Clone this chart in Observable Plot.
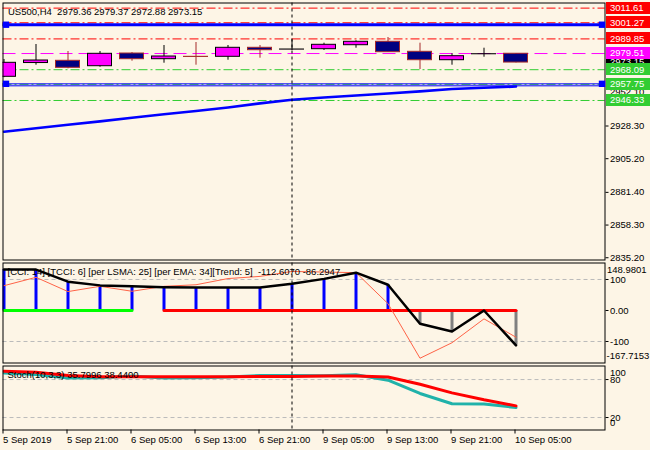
<!DOCTYPE html>
<html><head><meta charset="utf-8">
<script src="https://cdn.jsdelivr.net/npm/d3@7"></script>
<script src="https://cdn.jsdelivr.net/npm/@observablehq/plot@0.6"></script>
<style>
html,body{margin:0;padding:0;background:#FDF5E6;}
#chart{width:650px;height:450px;overflow:hidden;background:#FDF5E6;}
#chart svg{display:block;}
</style></head><body><div id="chart"></div>
<script>
// ---------- DATA ----------
const symbol = "US500,H4";
const barIndex = [0,1,2,3,4,5,6,7,8,9,10,11,12,13,14,15,16];
const opens  = [2963.07,2972.80,2974.38,2970.56,2979.54,2975.51,2977.20,2977.20,2983.57,2982.30,2982.58,2985.40,2987.81,2980.74,2974.80,2979.00,2979.36];
const highs  = [2975.30,2985.90,2980.95,2980.95,2980.24,2985.19,2987.31,2985.19,2985.19,2989.22,2986.82,2988.51,2990.84,2986.82,2979.32,2983.28,2979.37];
const lows   = [2962.50,2971.27,2968.72,2969.85,2974.10,2972.68,2971.27,2974.80,2976.22,2981.66,2981.66,2983.28,2980.46,2968.23,2971.27,2976.92,2972.88];
const closes = [2972.96,2974.59,2969.43,2979.32,2975.51,2977.42,2977.10,2983.57,2981.87,2982.36,2985.69,2987.81,2980.46,2974.80,2977.63,2979.04,2973.15];
const maValues = [2924.2,2926.7,2929.2,2931.6,2934.1,2936.6,2938.9,2941.4,2944.3,2946.8,2948.4,2949.9,2951.3,2952.8,2954.4,2955.3,2956.2];

const levelPrices = [3011.61,3001.27,2989.85,2979.51,2968.09,2957.75,2946.33];
const levelKinds  = ["resistance","resistance","resistance","pivot","support","support","support"];
const thickBluePrices = [2999.88];
const thinBluePrices  = [2958.10,2956.70];
const hiddenLabelPrices = [2999.88,2952.10];
const boxLabelPrices = [2973.15,3011.61,3001.27,2989.85,2979.51,2968.09,2957.75,2946.33];
const boxLabelKinds  = ["bid","resistance","resistance","resistance","pivot","support","support","support"];
const mainTicks = [2928.30,2905.20,2881.40,2858.30,2835.20];
const separatorBars = [9];

const cciValues  = [132,132,93,81,78,75,74,74,74,86,102,122,83,-43,-68,0,-112.6070];
const tcciValues = [80,107,61,78,62,78,83,103,110,126,124,122,22,-154,-104,-27,-86.2947];
const trendState = ["up","up","up","up","up","down","down","down","down","down","down","down","down","down","down","down","down"];
const cciMax = 148.9801, cciMin = -167.7153;
const cciTicks = [100,0,-100];
const cciParams = {CCI:14, TCCI:6, LSMA:25, EMA:34, Trend:5};

const stochK = [90.5,88,82.5,83,85.5,82.5,83,84,86.5,86.5,86,87.5,79,58,41.7,41.5,35.7996];
const stochD = [93,91.5,86.5,84.5,84.5,84.5,84.5,84.5,85,85,85.5,85.5,84,72.5,59,48,38.44];
const stochTicks = [80,20];
const stochBounds = [100,0];

const xTickBars   = [0,2,4,6,8,10,12,14,16];
const xTickLabels = ["5 Sep 2019","5 Sep 21:00","6 Sep 05:00","6 Sep 13:00","6 Sep 21:00","9 Sep 05:00","9 Sep 13:00","9 Sep 21:00","10 Sep 05:00"];

// ---------- STYLE ----------
const FONT = '"Liberation Sans", Arial, sans-serif';
const BG = "#FDF5E6";
const kindColor = {resistance:"#FF0000", pivot:"#FF00FF", support:"#32CD32", bid:"#000000"};
const levelDash = {resistance:"9,3,2,3", pivot:"13,6", support:"9,3,2,3"};
const W = 650;
const xOpt = {domain:[-0.03125, 18.78125], axis:null};
const common = {width:W, marginLeft:2.5, marginRight:45.5,
  style:{background:BG, fontFamily:FONT, fontSize:"9.5px", color:"black", overflow:"visible"}};

const candles = barIndex.map((i,k)=>({i, open:opens[k], high:highs[k], low:lows[k], close:closes[k], up: closes[k] >= opens[k]}));
const upC = candles.filter(d=>d.up), dnC = candles.filter(d=>!d.up);
const bodyHalf = 0.375;

function priceLabels(hidden, values, kinds) {
  return (index, scales, vals, dims) => {
    const g = d3.create("svg:g").attr("font-family", FONT).attr("font-size", 9.5).attr("text-anchor","start");
    const x0 = dims.width - dims.marginRight + 1.5;
    hidden.forEach(v => {
      g.append("text").attr("x", x0+4).attr("y", scales.y(v)).attr("dy","0.35em").attr("fill","black").text(v.toFixed(2));
    });
    values.forEach((v,k) => {
      const y = scales.y(v);
      g.append("rect").attr("x", x0).attr("y", Math.round(y)-6).attr("width", 46).attr("height", 12).attr("fill", kindColor[kinds[k]]);
      g.append("text").attr("x", x0+4).attr("y", y).attr("dy","0.35em").attr("fill","white").text(v.toFixed(2));
    });
    return g.node();
  };
}

// ---------- MAIN PANE ----------
const levels = levelPrices.map((p,k)=>({p, kind:levelKinds[k]}));
const mainPlot = Plot.plot({
  ...common, height:261, marginTop:2.5, marginBottom:1.5,
  x:xOpt, y:{domain:[2833.6, 3015.23], axis:null},
  marks:[
    ...["resistance","pivot","support"].map(kd => Plot.ruleY(levels.filter(d=>d.kind===kd), {y:"p", stroke:kindColor[kd], strokeDasharray:levelDash[kd], strokeWidth:1})),
    Plot.ruleY(thickBluePrices, {stroke:"#0000FF", strokeWidth:3}),
    Plot.ruleY(thinBluePrices, {stroke:"#0000FF", strokeWidth:1}),
    Plot.line(barIndex.map((i,k)=>({i, v:maValues[k]})), {x:"i", y:"v", stroke:"#0000FF", strokeWidth:2.6, clip:true}),
    Plot.ruleX(upC, {x:"i", y1:"low", y2:"high", stroke:"black", clip:true}),
    Plot.ruleX(dnC, {x:"i", y1:"low", y2:"high", stroke:"#A52A2A", clip:true}),
    Plot.rect(upC, {x1:d=>d.i-bodyHalf, x2:d=>d.i+bodyHalf, y1:"open", y2:"close", fill:"#FF00FF", stroke:"black", clip:true}),
    Plot.rect(dnC, {x1:d=>d.i-bodyHalf, x2:d=>d.i+bodyHalf, y1:"open", y2:"close", fill:"#000080", stroke:"#A52A2A", clip:true}),
    Plot.ruleX(separatorBars, {stroke:"black", strokeDasharray:"3,3"}),
    Plot.frame({stroke:"black"}),
    Plot.dot(thickBluePrices.concat([thinBluePrices[0]]), {y:d=>d, frameAnchor:"left", dx:3, symbol:"square", r:3.6, fill:"#0000FF"}),
    Plot.dot(thickBluePrices.concat([thinBluePrices[0]]), {y:d=>d, frameAnchor:"right", dx:-3, symbol:"square", r:3.6, fill:"#0000FF"}),
    Plot.axisY({anchor:"right", ticks:mainTicks, tickFormat:d=>d.toFixed(2), tickSize:3, tickPadding:2, fontSize:9.5}),
    priceLabels(hiddenLabelPrices, boxLabelPrices, boxLabelKinds),
    Plot.text([`${symbol}  ${opens[16].toFixed(2)} ${highs[16].toFixed(2)} ${lows[16].toFixed(2)} ${closes[16].toFixed(2)}`],
      {frameAnchor:"top-left", lineAnchor:"middle", dx:5, dy:8.5, fill:"black", fontSize:9.5})
  ]
});

// ---------- CCI PANE ----------
const cciData = barIndex.map((i,k)=>({i, cci:cciValues[k], tcci:tcciValues[k], trend:trendState[k]}));
const cciText = `[CCI: ${cciParams.CCI}] [TCCI: ${cciParams.TCCI}] [per LSMA: ${cciParams.LSMA}] [per EMA: ${cciParams.EMA}][Trend: ${cciParams.Trend}]  ${cciValues[16].toFixed(4)} ${tcciValues[16].toFixed(4)}`;
const cciPlot = Plot.plot({
  ...common, height:103, marginTop:1.5, marginBottom:1.5,
  x:xOpt, y:{domain:[-169.4, 153.2], axis:null},
  marks:[
    Plot.ruleY([100,-100], {stroke:"#BBBBBB", strokeDasharray:"4,3"}),
    Plot.ruleX(cciData.filter(d=>d.cci>=0), {x:"i", y1:0, y2:"cci", stroke:"#0000FF", strokeWidth:3}),
    Plot.ruleX(cciData.filter(d=>d.cci<0), {x:"i", y1:0, y2:"cci", stroke:"#808080", strokeWidth:3}),
    Plot.line(cciData.filter(d=>d.trend==="up"), {x:"i", y:()=>0, stroke:"#00FF00", strokeWidth:3}),
    Plot.line(cciData.filter(d=>d.trend==="down"), {x:"i", y:()=>0, stroke:"#FF0000", strokeWidth:3}),
    Plot.line(cciData, {x:"i", y:"tcci", stroke:"#FF6347", strokeWidth:1}),
    Plot.line(cciData, {x:"i", y:"cci", stroke:"black", strokeWidth:2.5}),
    Plot.ruleX(separatorBars, {stroke:"black", strokeDasharray:"3,3"}),
    Plot.frame({stroke:"black"}),
    Plot.axisY({anchor:"right", ticks:cciTicks, tickFormat:d=>d===0?"0.00":String(d), tickSize:3, tickPadding:2, fontSize:9.5}),
    Plot.text([cciMax], {y:d=>d, text:d=>d.toFixed(4), frameAnchor:"right", textAnchor:"start", dx:2, dy:6, fill:"black", fontSize:9.5}),
    Plot.text([cciMin], {y:d=>d, text:d=>d.toFixed(4), frameAnchor:"right", textAnchor:"start", dx:1.5, dy:-7, fill:"black", fontSize:9.5}),
    Plot.text([cciText], {frameAnchor:"top-left", lineAnchor:"middle", dx:4.5, dy:9, fill:"black", fontSize:9.5})
  ]
});

// ---------- STOCH PANE ----------
const stData = barIndex.map((i,k)=>({i, k:stochK[k], d:stochD[k]}));
const stochPlot = Plot.plot({
  ...common, height:86, marginTop:1.5, marginBottom:20.5,
  x:xOpt, y:{domain:[0.3, 101.4], axis:null},
  marks:[
    Plot.ruleY(stochTicks, {stroke:"#BBBBBB", strokeDasharray:"4,3"}),
    Plot.line(stData, {x:"i", y:"k", stroke:"#20B2AA", strokeWidth:3, clip:true}),
    Plot.line(stData, {x:"i", y:"d", stroke:"#FF0000", strokeWidth:3, clip:true}),
    Plot.ruleX(separatorBars, {stroke:"black", strokeDasharray:"3,3"}),
    Plot.frame({stroke:"black"}),
    Plot.axisY({anchor:"right", ticks:stochTicks, tickSize:3, tickPadding:2, fontSize:9.5}),
    Plot.text([stochBounds[0]], {y:d=>d, text:d=>String(d), frameAnchor:"right", textAnchor:"start", dx:5, dy:6, fill:"black", fontSize:9.5}),
    Plot.text([stochBounds[1]], {y:d=>d, text:d=>String(d), frameAnchor:"right", textAnchor:"start", dx:5, dy:-7, fill:"black", fontSize:9.5}),
    Plot.text([`Stoch(10,3,3) ${stochK[16].toFixed(4)} ${stochD[16].toFixed(4)}`], {frameAnchor:"top-left", lineAnchor:"middle", dx:4.5, dy:9, fill:"black", fontSize:9.5}),
    Plot.axisX({anchor:"bottom", ticks:xTickBars, tickFormat:d=>xTickLabels[xTickBars.indexOf(d)], tickSize:4, tickPadding:2, textAnchor:"start", dx:-1, fontSize:9.5, label:null})
  ]
});

const root = document.getElementById("chart");
root.append(mainPlot, cciPlot, stochPlot);
</script></body></html>
